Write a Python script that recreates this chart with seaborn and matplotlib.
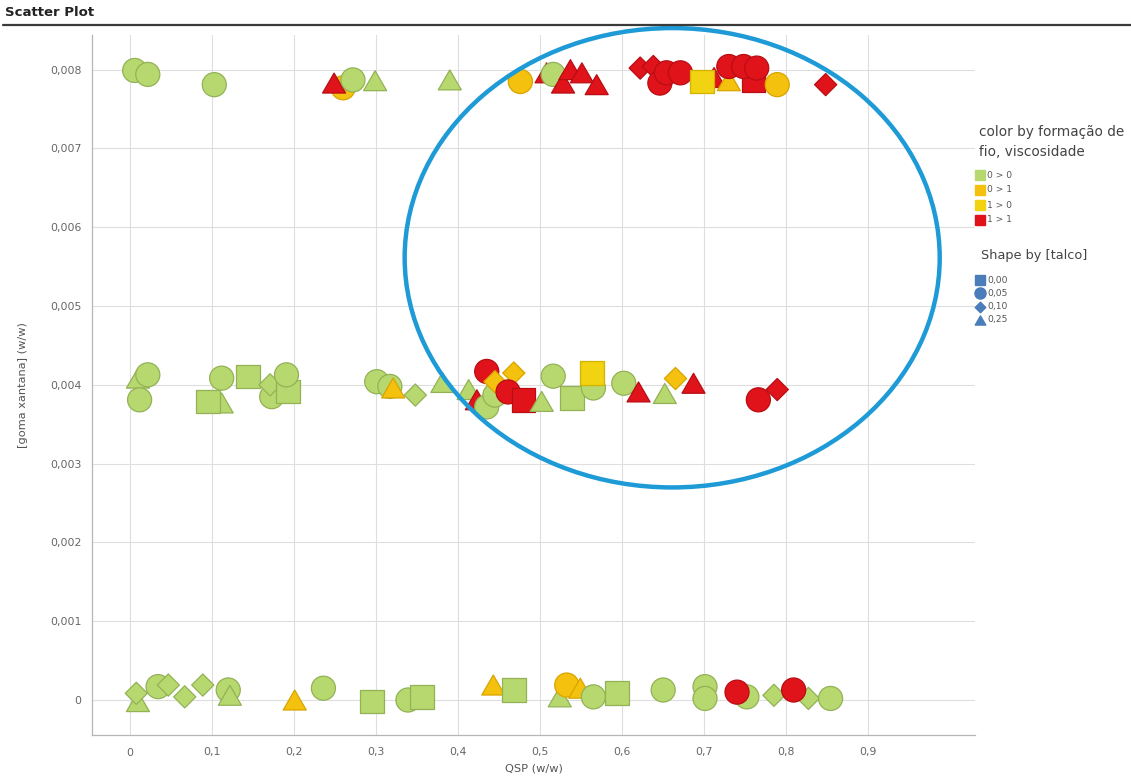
import matplotlib
matplotlib.use("Agg")
import matplotlib.pyplot as plt
from matplotlib.lines import Line2D
from matplotlib.patches import Ellipse
from matplotlib.path import Path
from matplotlib.ticker import FixedLocator, FuncFormatter
import numpy as np
import pandas as pd
import seaborn as sns

# ---- data -------------------------------------------------------------
# upper band: goma xantana ~ 0,008
qsp_top = [0.006, 0.022, 0.103, 0.260, 0.249, 0.272, 0.299, 0.390, 0.476, 0.508,
           0.516, 0.528, 0.537, 0.551, 0.569, 0.622, 0.638, 0.646, 0.654, 0.671,
           0.712, 0.697, 0.730, 0.760, 0.730, 0.748, 0.764, 0.789, 0.848]
goma_top = [0.00799, 0.00794, 0.00781, 0.00777, 0.00783, 0.00787, 0.00786, 0.00787, 0.00785, 0.00796,
            0.00794, 0.00783, 0.00800, 0.00796, 0.00781, 0.00802, 0.00804, 0.00783, 0.00796, 0.00796,
            0.00790, 0.00785, 0.00786, 0.00787, 0.00804, 0.00804, 0.00802, 0.00781, 0.00781]
talco_top = ["0,05", "0,05", "0,05", "0,05", "0,25", "0,05", "0,25", "0,25", "0,05", "0,25",
             "0,05", "0,25", "0,25", "0,25", "0,25", "0,10", "0,10", "0,05", "0,05", "0,05",
             "0,25", "0,00", "0,25", "0,00", "0,05", "0,05", "0,05", "0,05", "0,10"]
classe_top = ["0 > 0", "0 > 0", "0 > 0", "0 > 1", "1 > 1", "0 > 0", "0 > 0", "0 > 0", "0 > 1", "1 > 1",
              "0 > 0", "1 > 1", "1 > 1", "1 > 1", "1 > 1", "1 > 1", "1 > 1", "1 > 1", "1 > 1", "1 > 1",
              "1 > 1", "1 > 0", "0 > 1", "1 > 1", "1 > 1", "1 > 1", "1 > 1", "0 > 1", "1 > 1"]

# middle band: goma xantana ~ 0,004
qsp_mid = [0.010, 0.022, 0.012, 0.112, 0.0955, 0.112, 0.144, 0.173, 0.171, 0.193,
           0.191, 0.301, 0.317, 0.321, 0.348, 0.381, 0.413, 0.423, 0.435, 0.435,
           0.445, 0.445, 0.468, 0.461, 0.480, 0.502, 0.516, 0.539, 0.565, 0.563,
           0.602, 0.620, 0.652, 0.665, 0.687, 0.766, 0.789]
goma_mid = [0.004085, 0.004127, 0.00381, 0.00377, 0.003788, 0.004085, 0.004106, 0.00385, 0.00400, 0.003915,
            0.004127, 0.00404, 0.00398, 0.00396, 0.00387, 0.00403, 0.00394, 0.00381, 0.00372, 0.00417,
            0.00387, 0.00404, 0.00415, 0.00391, 0.00381, 0.00379, 0.00411, 0.00383, 0.00396, 0.00415,
            0.00402, 0.00391, 0.00389, 0.00408, 0.00402, 0.00381, 0.00394]
talco_mid = ["0,25", "0,05", "0,05", "0,25", "0,00", "0,05", "0,00", "0,05", "0,10", "0,00",
             "0,05", "0,05", "0,05", "0,25", "0,10", "0,25", "0,25", "0,25", "0,05", "0,05",
             "0,05", "0,10", "0,10", "0,05", "0,00", "0,25", "0,05", "0,00", "0,05", "0,00",
             "0,05", "0,25", "0,25", "0,10", "0,25", "0,05", "0,10"]
classe_mid = ["0 > 0"] * 13 + ["0 > 1", "0 > 0", "0 > 0", "0 > 0", "1 > 1", "0 > 0", "1 > 1", "0 > 0",
                               "0 > 1", "0 > 1", "1 > 1", "1 > 1", "0 > 0", "0 > 0", "0 > 0", "0 > 0",
                               "1 > 0", "0 > 0", "1 > 1", "0 > 0", "0 > 1", "1 > 1", "1 > 1", "1 > 1"]

# lower band: goma xantana ~ 0
qsp_bot = [0.010, 0.008, 0.0345, 0.047, 0.067, 0.089, 0.120, 0.122, 0.201, 0.236,
           0.295, 0.339, 0.356, 0.443, 0.468, 0.524, 0.5325, 0.549, 0.565, 0.5935,
           0.650, 0.701, 0.701, 0.752, 0.740, 0.785, 0.827, 0.809, 0.854]
goma_bot = [-0.00002, 0.000085, 0.00017, 0.00019, 0.00004, 0.00019, 0.000127, 0.00006, 0.0, 0.00015,
            -0.00002, 0.0, 0.00004, 0.00019, 0.000127, 0.00004, 0.00019, 0.00015, 0.00004, 0.000085,
            0.000127, 0.00017, 0.00002, 0.00004, 0.0001, 0.00006, 0.00002, 0.000127, 0.00002]
talco_bot = ["0,25", "0,10", "0,05", "0,10", "0,10", "0,10", "0,05", "0,25", "0,25", "0,05",
             "0,00", "0,05", "0,00", "0,25", "0,00", "0,25", "0,05", "0,25", "0,05", "0,00",
             "0,05", "0,05", "0,05", "0,05", "0,05", "0,10", "0,10", "0,05", "0,05"]
classe_bot = ["0 > 0"] * 8 + ["0 > 1", "0 > 0", "0 > 0", "0 > 0", "0 > 0", "0 > 1", "0 > 0", "0 > 0",
                              "0 > 1", "0 > 1", "0 > 0", "0 > 0", "0 > 0", "0 > 0", "0 > 0", "0 > 0",
                              "1 > 1", "0 > 0", "0 > 0", "1 > 1", "0 > 0"]

classes = ["0 > 0", "0 > 1", "1 > 0", "1 > 1"]
talco_levels = ["0,00", "0,05", "0,10", "0,25"]
x_ticks = [0.0, 0.1, 0.2, 0.3, 0.4, 0.5, 0.6, 0.7, 0.8, 0.9]
y_ticks = [0.0, 0.001, 0.002, 0.003, 0.004, 0.005, 0.006, 0.007, 0.008]

# ---- styles -----------------------------------------------------------
face = {"0 > 0": "#B7D86F", "0 > 1": "#F4C20E", "1 > 0": "#F1D312", "1 > 1": "#E0131B"}
edge = {"0 > 0": "#92B255", "0 > 1": "#D8A400", "1 > 0": "#D3B200", "1 > 1": "#B80D13"}
shape_blue = "#4A7DBA"

diamond = Path([(0, 1), (1, 0), (0, -1), (-1, 0), (0, 1)],
               [Path.MOVETO, Path.LINETO, Path.LINETO, Path.LINETO, Path.CLOSEPOLY])
triangle = Path([(-1, -0.866), (1, -0.866), (0, 0.866), (-1, -0.866)],
                [Path.MOVETO, Path.LINETO, Path.LINETO, Path.CLOSEPOLY])
marker_map = {"0,00": "s", "0,05": "o", "0,10": diamond, "0,25": triangle}
size_map = {"0,00": 290, "0,05": 300, "0,10": 255, "0,25": 275}

df = pd.DataFrame({
    "qsp": qsp_top + qsp_mid + qsp_bot,
    "goma": goma_top + goma_mid + goma_bot,
    "talco": talco_top + talco_mid + talco_bot,
    "classe": classe_top + classe_mid + classe_bot,
})

sns.set_theme(style="whitegrid")
plt.rcParams["font.family"] = ["DejaVu Sans"]

W, H = 1131, 780
fig = plt.figure(figsize=(W / 100, H / 100), dpi=100)
fig.patch.set_facecolor("white")
ax = fig.add_axes([92 / W, 1 - 735 / H, (975 - 92) / W, (735 - 35) / H])
ax.set_facecolor("white")

sns.scatterplot(
    data=df, x="qsp", y="goma",
    hue="classe", hue_order=classes, palette=face,
    style="talco", style_order=talco_levels, markers=marker_map,
    size="talco", size_order=talco_levels, sizes=size_map,
    edgecolor=[edge[c] for c in df["classe"]], linewidth=0.9,
    alpha=1.0, legend=False, ax=ax, zorder=3,
)

# ---- axes -------------------------------------------------------------
ax.set_xlim(-0.046, 1.03)
ax.set_ylim(-0.000444, 0.00844)
ax.xaxis.set_major_locator(FixedLocator(x_ticks))
ax.yaxis.set_major_locator(FixedLocator(y_ticks))
ax.xaxis.set_major_formatter(FuncFormatter(lambda v, p: "0" if abs(v) < 1e-12 else f"{v:.1f}".replace(".", ",")))
ax.yaxis.set_major_formatter(FuncFormatter(lambda v, p: "0" if abs(v) < 1e-12 else f"{v:.3f}".replace(".", ",")))
ax.grid(True, color="#dedede", linewidth=0.8)
for side in ["top", "right"]:
    ax.spines[side].set_visible(False)
for side in ["left", "bottom"]:
    ax.spines[side].set_color("#b5b5b5")
    ax.spines[side].set_linewidth(0.9)
ax.tick_params(axis="both", which="major", length=6, width=0.8, color="#d8d8d8",
               labelsize=7.8, labelcolor="#666666")
ax.tick_params(axis="x", pad=3)
ax.tick_params(axis="y", pad=1.5)
ax.set_xlabel("QSP (w/w)", fontsize=8.2, color="#555555", labelpad=4)
ax.set_ylabel("[goma xantana] (w/w)", fontsize=8.2, color="#555555", labelpad=16)

# highlight around the high-QSP group
ax.add_patch(Ellipse((0.661, 0.005613), width=0.652, height=0.00583, fill=False,
                     edgecolor="#1E9BD7", linewidth=3.2, clip_on=False, zorder=6))

# ---- header -----------------------------------------------------------
fig.text(5 / W, 1 - 12 / H, "Scatter Plot", fontsize=9.5, fontweight="bold",
         color="#222222", va="center", ha="left")
fig.add_artist(Line2D([3 / W, 1.0], [1 - 25 / H, 1 - 25 / H], transform=fig.transFigure,
                      color="#3a3a3a", linewidth=1.6))

# ---- legends (drawn as figure-level keys) -------------------------------
def fx(px):
    return px / W


def fy(py):
    return 1 - py / H


fig.text(fx(979), fy(132), "color by formação de", fontsize=9.8, color="#444444", va="center", ha="left")
fig.text(fx(979), fy(152), "fio, viscosidade", fontsize=9.8, color="#444444", va="center", ha="left")
for i, c in enumerate(classes):
    yy = 175 + 15 * i
    fig.add_artist(Line2D([fx(979.5)], [fy(yy)], transform=fig.transFigure, marker="s",
                          markersize=7.2, markerfacecolor=face[c], markeredgecolor=face[c],
                          linestyle=""))
    fig.text(fx(987), fy(yy), c, fontsize=6.6, color="#555555", va="center", ha="left")

fig.text(fx(981), fy(255), "Shape by [talco]", fontsize=9.3, color="#444444", va="center", ha="left")
shape_ms = {"0,00": 7.2, "0,05": 8.0, "0,10": 7.6, "0,25": 7.6}
for i, t in enumerate(talco_levels):
    yy = 280 + 13.3 * i
    fig.add_artist(Line2D([fx(979.5)], [fy(yy)], transform=fig.transFigure, marker=marker_map[t],
                          markersize=shape_ms[t], markerfacecolor=shape_blue,
                          markeredgecolor=shape_blue, linestyle=""))
    fig.text(fx(987), fy(yy), t, fontsize=6.6, color="#555555", va="center", ha="left")

fig.savefig("out.png", dpi=100, facecolor="white")
